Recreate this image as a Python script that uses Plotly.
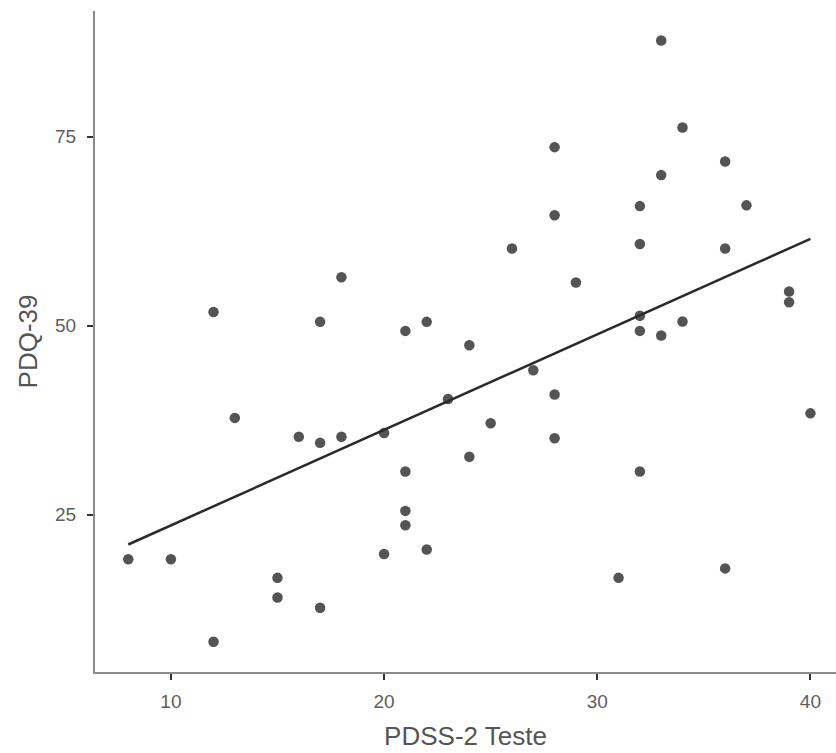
import numpy as np
import plotly.graph_objects as go

pdss2 = [8, 10, 12, 12, 13, 15, 15, 16, 17, 17, 17, 18, 18, 20, 20, 21, 21, 21, 21, 22,
         22, 23, 24, 24, 25, 26, 27, 28, 28, 28, 28, 29, 31, 32, 32, 32, 32, 32, 33, 33,
         33, 34, 34, 36, 36, 36, 37, 39, 39, 40]
pdq39 = [19.1, 19.1, 51.8, 8.2, 37.8, 16.65, 14.05, 35.3, 50.5, 34.5, 12.7, 56.4, 35.3, 35.8, 19.8,
         49.3, 30.7, 25.5, 23.6, 50.5, 20.4, 40.3, 47.4, 32.65, 37.1, 60.2, 44.1, 73.6, 64.6, 40.9,
         35.1, 55.7, 16.65, 65.8, 60.8, 51.3, 49.3, 30.7, 87.7, 69.9, 48.7, 76.2, 50.55, 71.7, 60.2,
         17.9, 65.9, 54.5, 53.1, 38.4]
x_ticks = [10, 20, 30, 40]
y_ticks = [25, 50, 75]

x = np.array(pdss2, dtype=float)
y = np.array(pdq39, dtype=float)
slope, intercept = np.polyfit(x, y, 1)
xl = np.array([x.min(), x.max()])
yl = intercept + slope * xl

fig = go.Figure()
fig.add_trace(go.Scatter(x=pdss2, y=pdq39, mode="markers",
                         marker=dict(size=10.5, color="#545454"),
                         hoverinfo="x+y", showlegend=False))
fig.add_trace(go.Scatter(x=xl, y=yl, mode="lines",
                         line=dict(color="#2a2a2a", width=2.5),
                         showlegend=False, hoverinfo="skip"))

axis_common = dict(showgrid=False, zeroline=False, showline=True,
                   linecolor="#8c8c8c", linewidth=2,
                   ticks="outside", ticklen=6, tickwidth=1.5, tickcolor="#333333",
                   tickfont=dict(family="Liberation Sans, Arial, sans-serif", size=19, color="#5e5e5e"))

fig.update_layout(
    width=836, height=753,
    margin=dict(l=95, r=0, t=11, b=81),
    paper_bgcolor="white", plot_bgcolor="white",
    font=dict(family="Liberation Sans, Arial, sans-serif"),
    xaxis=dict(range=[6.44, 41.2], tickvals=x_ticks, ticklabelstandoff=5,
               title=dict(text="PDSS-2 Teste", standoff=16,
                          font=dict(size=26, color="#555555")),
               **axis_common),
    yaxis=dict(range=[4.2, 91.6], tickvals=y_ticks, ticklabelstandoff=7,
               title=dict(text="PDQ-39", standoff=10,
                          font=dict(size=26, color="#555555")),
               **axis_common),
)

fig.write_html("out.html")
